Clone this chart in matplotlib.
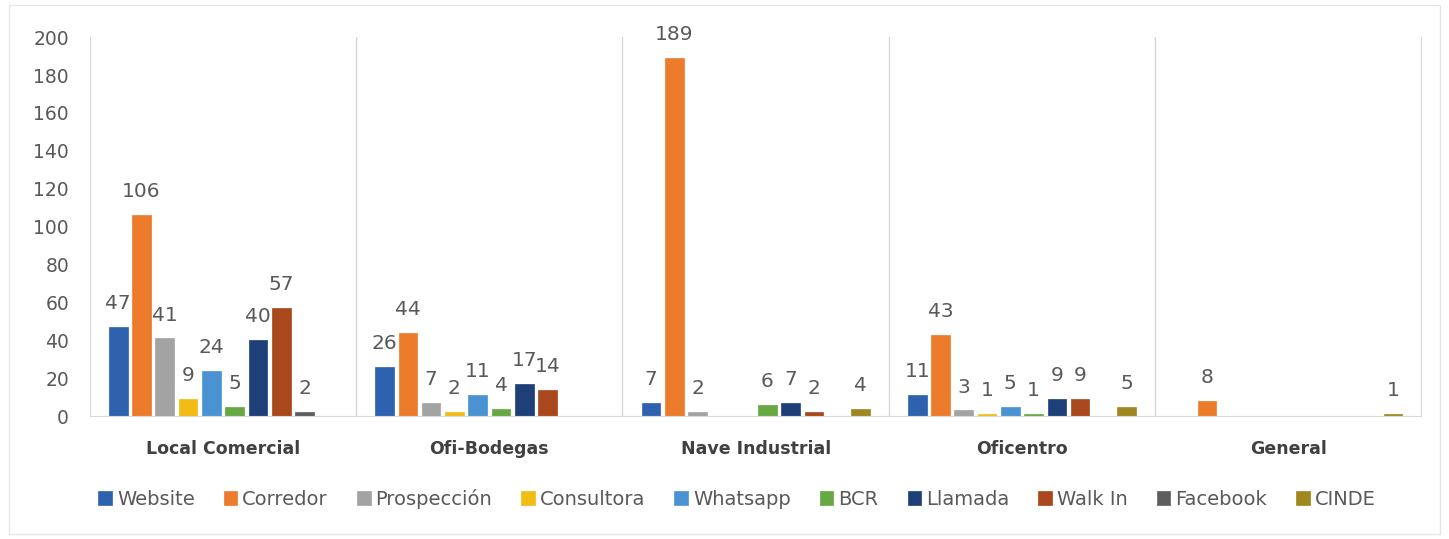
import numpy as np
import matplotlib.pyplot as plt

categories = ["Local Comercial", "Ofi-Bodegas", "Nave Industrial", "Oficentro", "General"]
series = ["Website", "Corredor", "Prospección", "Consultora", "Whatsapp",
          "BCR", "Llamada", "Walk In", "Facebook", "CINDE"]

website = [47, 26, 7, 11, 0]
corredor = [106, 44, 189, 43, 8]
prospeccion = [41, 7, 2, 3, 0]
consultora = [9, 2, 0, 1, 0]
whatsapp = [24, 11, 0, 5, 0]
bcr = [5, 4, 6, 1, 0]
llamada = [40, 17, 7, 9, 0]
walk_in = [57, 14, 2, 9, 0]
facebook = [2, 0, 0, 0, 0]
cinde = [0, 0, 4, 5, 1]

values = [website, corredor, prospeccion, consultora, whatsapp,
          bcr, llamada, walk_in, facebook, cinde]
colors = ["#2E62AE", "#EC7C2C", "#A3A3A3", "#F2BC14", "#4A93D3",
          "#66A842", "#1E3F78", "#A8481C", "#5E5E5E", "#A08820"]

fig = plt.figure(figsize=(14.49, 5.39), dpi=100)
ax = fig.add_axes([0.062, 0.228, 0.919, 0.703])

x = np.arange(len(categories))
slot = 0.0874
width = 0.07
text_color = "#595959"

for i, (name, vals, c) in enumerate(zip(series, values, colors)):
    pos = x + (i - 4.5) * slot
    ax.bar(pos, vals, width, color=c, edgecolor=c, linewidth=0.5, label=name)
    for p, v in zip(pos, vals):
        if v > 0:
            ax.annotate(str(v), (p, v), xytext=(0, 10), textcoords="offset points",
                        ha="center", va="bottom", fontsize=14.5, color=text_color)

ax.set_xlim(-0.5, len(categories) - 0.5)
ax.set_ylim(0, 200)
ax.set_yticks(np.arange(0, 201, 20))
ax.tick_params(axis="y", length=0, labelsize=13.5, labelcolor=text_color, pad=15)
ax.tick_params(axis="x", length=0, pad=17)
ax.set_xticks(x)
ax.set_xticklabels(categories, fontsize=12.5, fontweight="bold", color="#404040")

ax.spines["top"].set_visible(False)
for s in ["left", "right", "bottom"]:
    ax.spines[s].set_color("#D9D9D9")
for b in x[:-1] + 0.5:
    ax.axvline(b, color="#D9D9D9", linewidth=1)

ax.legend(loc="upper center", bbox_to_anchor=(0.486, -0.145), ncol=10, frameon=False,
          fontsize=14, handlelength=0.7, handleheight=0.7, handletextpad=0.25,
          columnspacing=1.5, labelcolor=text_color)

fig.patches.append(plt.Rectangle((0.006, 0.01), 0.988, 0.98, transform=fig.transFigure,
                                 fill=False, edgecolor="#E6E6E6", linewidth=1))

fig.savefig("out.png", dpi=100)
